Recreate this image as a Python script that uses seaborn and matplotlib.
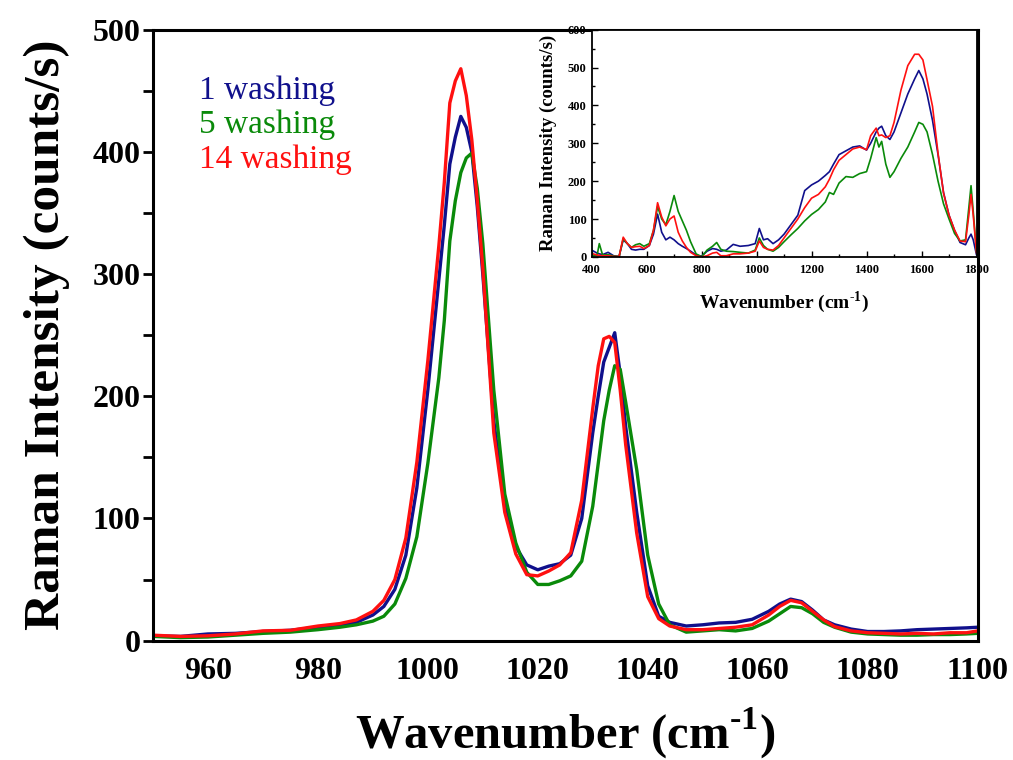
import numpy as np
import pandas as pd
import matplotlib
matplotlib.use("Agg")
import matplotlib.pyplot as plt
import seaborn as sns
from matplotlib.ticker import MultipleLocator

# --- main panel: zoom on the 1006 / 1033 cm-1 bands ---
wn = [950, 955, 960, 965, 970, 975, 980, 984, 987, 990, 992, 994, 996, 998,
      1000, 1002, 1003, 1004, 1005, 1006, 1007, 1008, 1009, 1010, 1012, 1014,
      1016, 1018, 1020, 1022, 1024, 1026, 1028, 1030, 1031, 1032, 1033, 1034,
      1035, 1036, 1038, 1040, 1042, 1044, 1047, 1050, 1053, 1056, 1059, 1062,
      1064, 1066, 1068, 1070, 1072, 1074, 1077, 1080, 1083, 1086, 1089, 1092,
      1095, 1098, 1100]
wash_1 = [4, 3.5, 5.5, 6, 7.5, 8.5, 11, 13, 15, 21, 28, 42, 70, 125,
          205, 295, 340, 390, 412, 429, 420, 400, 355, 300, 180, 110,
          77, 62, 58, 61, 63, 70, 100, 170, 200, 228, 240, 252,
          218, 175, 105, 45, 20, 15, 12, 13, 14.5, 15, 17.5, 24,
          30, 34, 32, 25, 17, 13, 9.5, 7.5, 7.5, 8, 9, 9.5,
          10, 10.5, 11]
wash_5 = [3.5, 2.5, 3, 4.5, 6, 7, 9, 11, 13, 16, 20, 30, 51, 85,
          145, 215, 262, 327, 360, 383, 395, 399, 370, 325, 205, 120,
          80, 56, 46, 46, 49, 53, 65, 110, 145, 180, 205, 225,
          222, 195, 140, 70, 30, 13, 7, 8, 9, 8, 10, 16,
          22, 28, 27, 22, 15, 11, 7, 5.5, 5, 4.5, 4.5, 5,
          5, 5.5, 6]
wash_14 = [4.5, 3.5, 4, 5.5, 8, 8.5, 12, 14, 17, 24, 33, 50, 84, 146,
           229, 323, 375, 440, 458, 468, 446, 410, 360, 305, 170, 105,
           71, 54, 53, 57, 62, 72, 115, 190, 225, 247, 249, 244,
           205, 160, 88, 36, 18, 12, 9, 9, 10, 11, 13, 21,
           28, 33, 31, 24, 17, 11.5, 8, 6.5, 6, 5.5, 6, 5.5,
           6.5, 6.5, 8]

# --- inset: full spectrum ---
wn_full = [400, 420, 428, 440, 460, 480, 500, 515, 530, 545, 560, 575, 590,
           610, 625, 640, 655, 670, 685, 700, 715, 730, 745, 760, 780, 800,
           820, 840, 855, 870, 890, 915, 940, 970, 995, 1010, 1025, 1040,
           1060, 1080, 1100, 1125, 1150, 1175, 1200, 1225, 1250, 1265, 1280,
           1300, 1325, 1350, 1375, 1400, 1415, 1435, 1445, 1455, 1470, 1485,
           1500, 1525, 1550, 1575, 1590, 1605, 1620, 1640, 1660, 1680, 1700,
           1720, 1740, 1760, 1772, 1780, 1788, 1800]
full_1 = [18, 10, 8, 6, 12, 3, 1, 45, 35, 20, 18, 20, 20,
          30, 60, 113, 65, 45, 52, 45, 35, 28, 22, 15, 5, 2,
          15, 22, 20, 15, 18, 33, 28, 30, 35, 75, 45, 48,
          35, 45, 60, 85, 110, 175, 190, 200, 215, 225, 245,
          270, 280, 290, 293, 282, 300, 330, 340, 345, 320, 310,
          330, 380, 430, 470, 492, 470, 430, 360, 270, 170, 110,
          70, 38, 32, 50, 60, 45, 5]
full_5 = [5, 4, 35, 5, 6, 2, 1, 48, 35, 25, 32, 35, 28,
          35, 70, 133, 100, 85, 120, 162, 120, 95, 70, 40, 8, 0,
          18, 28, 38, 20, 15, 14, 12, 10, 18, 50, 30, 20,
          15, 25, 40, 58, 75, 95, 112, 125, 145, 170, 165,
          195, 212, 210, 220, 225, 260, 315, 290, 305, 245, 210,
          225, 260, 290, 330, 355, 350, 330, 270, 200, 140, 100,
          62, 42, 45, 130, 188, 120, 12]
full_14 = [9, 5, 4, 3, 3, 1, 1, 52, 35, 25, 27, 28, 22,
           30, 70, 143, 105, 82, 100, 108, 65, 42, 25, 12, 3, 0,
           3, 10, 12, 3, 3, 8, 8, 10, 15, 42, 25, 20,
           18, 30, 50, 75, 100, 130, 155, 165, 185, 205, 230,
           255, 270, 285, 290, 283, 320, 340, 320, 322, 315, 320,
           355, 440, 505, 535, 535, 520, 468, 397, 274, 168, 110,
           71, 42, 40, 110, 165, 110, 10]

labels = ["1 washing", "5 washing", "14 washing"]
colors = {"1 washing": "#10108c", "5 washing": "#0a8a0a", "14 washing": "#ff1010"}


def long_form(x, series):
    frames = []
    for lab, vals in zip(labels, series):
        frames.append(pd.DataFrame({"wn": x, "I": vals, "sample": lab}))
    return pd.concat(frames, ignore_index=True)


df_main = long_form(wn, [wash_1, wash_5, wash_14])
df_full = long_form(wn_full, [full_1, full_5, full_14])

sns.set_style("ticks")
plt.rcParams["font.family"] = ["Liberation Serif", "DejaVu Serif"]
plt.rcParams["mathtext.fontset"] = "custom"
plt.rcParams["mathtext.rm"] = "Liberation Serif:bold"
plt.rcParams["mathtext.bf"] = "Liberation Serif:bold"
for key in ["text.color", "axes.labelcolor", "xtick.color", "ytick.color", "axes.edgecolor"]:
    plt.rcParams[key] = "black"

xlab = r"Wavenumber (cm$^{\text{-1}}$)"
ylab = "Raman Intensity (counts/s)"

fig = plt.figure(figsize=(10.13, 7.6), dpi=100)
ax = fig.add_axes([0.151, 0.157, 0.814, 0.804])

sns.lineplot(data=df_main, x="wn", y="I", hue="sample", palette=colors,
             estimator=None, linewidth=2.4, ax=ax)
ax.set_xlim(950, 1100)
ax.set_ylim(0, 500)
ax.xaxis.set_major_locator(MultipleLocator(20))
ax.yaxis.set_major_locator(MultipleLocator(100))
ax.yaxis.set_minor_locator(MultipleLocator(50))
ax.tick_params(axis="x", length=0, pad=12, labelsize=23)
ax.tick_params(axis="y", which="major", direction="out", length=7, width=2, labelsize=23, pad=2)
ax.tick_params(axis="y", which="minor", direction="out", length=7, width=2)
for lab in ax.get_xticklabels() + ax.get_yticklabels():
    lab.set_fontweight("bold")
for sp in ax.spines.values():
    sp.set_linewidth(2.2)
ax.set_xlabel(xlab, fontsize=35, fontweight="bold", labelpad=14)
ax.set_ylabel(ylab, fontsize=37, fontweight="bold", labelpad=16)

leg = ax.legend(loc="upper left", bbox_to_anchor=(0.04, 0.947), frameon=False,
                handlelength=0, handletextpad=0, labelcolor="linecolor",
                fontsize=24, labelspacing=0.12, borderaxespad=0)
for h in leg.legend_handles:
    h.set_visible(False)

# inset
axin = fig.add_axes([0.584, 0.662, 0.380, 0.299])
sns.lineplot(data=df_full, x="wn", y="I", hue="sample", palette=colors,
             estimator=None, linewidth=1.2, ax=axin, legend=False)
axin.set_xlim(400, 1800)
axin.set_ylim(0, 600)
axin.xaxis.set_major_locator(MultipleLocator(200))
axin.xaxis.set_minor_locator(MultipleLocator(100))
axin.yaxis.set_major_locator(MultipleLocator(100))
axin.yaxis.set_minor_locator(MultipleLocator(50))
axin.tick_params(which="both", direction="in", labelsize=9, width=1)
axin.tick_params(which="major", length=4)
axin.tick_params(which="minor", length=2.5)
axin.tick_params(axis="x", pad=5)
for lab in axin.get_xticklabels() + axin.get_yticklabels():
    lab.set_fontweight("bold")
for sp in axin.spines.values():
    sp.set_linewidth(1.3)
axin.set_xlabel(xlab, fontsize=14, fontweight="bold", labelpad=10)
axin.set_ylabel(ylab, fontsize=13.5, fontweight="bold", labelpad=8)

fig.savefig("out.png", dpi=100)
